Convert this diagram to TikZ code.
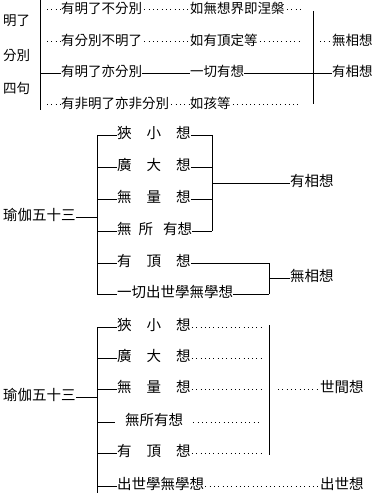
\documentclass[tikz,border=0pt]{standalone}
\usepackage{fontspec}
\newfontfamily\cjk{Noto Sans CJK TC}
\tikzset{
  lbl/.style={font=\cjk\fontsize{13.5}{14}\selectfont, inner sep=0pt, anchor=west, text height=0.88em, text depth=0.12em},
  lblb/.style={font=\cjk\fontsize{14.5}{15}\selectfont, inner sep=0pt, anchor=west, text height=0.88em, text depth=0.12em},
  ln/.style={line width=0.8pt},
  dots/.style={line width=1pt, dash pattern=on 1pt off 3.3pt},
}
\newcommand{\gapA}{\hspace{15pt}}
\begin{document}
\begin{tikzpicture}[x=1pt,y=-1pt]
\useasboundingbox (0,0) rectangle (378,494);
% ---------------- Section 1 ----------------
\node[lbl] (m1) at (3,22) {明了};
\node[lbl] (m2) at (3,57) {分別};
\node[lbl] (m3) at (3,90) {四句};
\coordinate (v1t) at (40,0);
\coordinate (v1b) at (40,110);
\draw[ln] (v1t) -- (v1b);
\node[lbl] (a1) at (61,10) {有明了不分別};
\node[lbl] (a2) at (61,42) {有分別不明了};
\node[lbl] (a3) at (61,73) {有明了亦分別};
\node[lbl] (a4) at (61,105) {有非明了亦非分別};
\node[lbl] (b1) at (190,10) {如無想界即涅槃};
\node[lbl] (b2) at (190,42) {如有頂定等};
\node[lbl] (b3) at (190,73) {一切有想};
\node[lbl] (b4) at (190,105) {如孩等};
\coordinate (e1) at (301,10);
\coordinate (e2) at (301,42);
\coordinate (e4) at (301,105);
\coordinate (v2t) at (313,11);
\coordinate (v2b) at (313,104);
\draw[ln] (v2t) -- (v2b);
\node[lbl] (c2) at (332,42) {無相想};
\node[lbl] (c3) at (332,73) {有相想};
% dotted rows
\draw[dots] ([xshift=7pt]v1t |- a1.west) -- ([xshift=-1pt]a1.west);
\draw[dots] ([xshift=7pt]v1t |- a2.west) -- ([xshift=-1pt]a2.west);
\draw[dots] ([xshift=7pt]v1t |- a4.west) -- ([xshift=-1pt]a4.west);
\draw[dots] ([xshift=2pt]a1.east) -- ([xshift=-1pt]b1.west);
\draw[dots] ([xshift=2pt]a2.east) -- ([xshift=-1pt]b2.west);
\draw[dots] ([xshift=2pt]a4.east) -- ([xshift=-1pt]b4.west);
\draw[dots] ([xshift=2pt]b1.east) -- (e1);
\draw[dots] ([xshift=2pt]b2.east) -- (e2);
\draw[dots] ([xshift=2pt]b4.east) -- (e4);
\draw[dots] ([xshift=7pt]v2t |- c2.west) -- ([xshift=-1pt]c2.west);
% solid row
\draw[ln] (v1t |- a3.west) -- (a3.west);
\draw[ln] (a3.east) -- (b3.west);
\draw[ln] (b3.east) -- (c3.west);
% ---------------- Section 2 ----------------
\node[lblb] (r2) at (3,217) {瑜伽五十三};
\coordinate (w2t) at (97,135);
\coordinate (w2b) at (97,294);
\draw[ln] (r2.east) -- (r2 -| w2t);
\draw[ln] (w2t) -- (w2b);
\node[lblb] (p1) at (117,135) {狹\gapA 小\gapA 想};
\node[lblb] (p2) at (117,167) {廣\gapA 大\gapA 想};
\node[lblb] (p3) at (117,199) {無\gapA 量\gapA 想};
\node[lblb] (p4) at (117,231) {無\hspace{7pt}所\hspace{10pt}有想};
\node[lblb] (p5) at (117,263) {有\gapA 頂\gapA 想};
\node[lblb] (p6) at (117,294) {一切出世學無學想};
\foreach \n in {p1,p2,p3,p4,p5,p6} \draw[ln] (w2t |- \n.west) -- (\n.west);
\coordinate (j1t) at (212,135);
\coordinate (j1b) at (212,231);
\foreach \n in {p1,p2,p3,p4} \draw[ln] (\n.east) -- (\n.east -| j1t);
\draw[ln] (j1t) -- (j1b);
\node[lblb] (h1) at (290,183) {有相想};
\draw[ln] (h1.west -| j1t) -- (h1.west);
\coordinate (j2t) at (269,263);
\coordinate (j2b) at (269,294);
\foreach \n in {p5,p6} \draw[ln] (\n.east) -- (\n.east -| j2t);
\draw[ln] (j2t) -- (j2b);
\node[lblb] (h2) at (290,278) {無相想};
\draw[ln] (h2.west -| j2t) -- (h2.west);
% ---------------- Section 3 ----------------
\node[lblb] (r3) at (3,397) {瑜伽五十三};
\coordinate (w3t) at (97,327);
\coordinate (w3b) at (97,493);
\draw[ln] (r3.east) -- (r3 -| w3t);
\draw[ln] (w3t) -- (w3b);
\node[lblb] (q1) at (117,327) {狹\gapA 小\gapA 想};
\node[lblb] (q2) at (117,358) {廣\gapA 大\gapA 想};
\node[lblb] (q3) at (117,389) {無\gapA 量\gapA 想};
\node[lblb] (q4) at (125,422) {無所有想};
\node[lblb] (q5) at (117,453) {有\gapA 頂\gapA 想};
\node[lblb] (q6) at (117,486) {出世學無學想};
\foreach \n in {q1,q2,q3,q5,q6} \draw[ln] (w3t |- \n.west) -- (\n.west);
\draw[ln] (w3t |- q4.west) -- ([xshift=-10pt]q4.west);
\coordinate (k1) at (261,0);
\foreach \n in {q1,q2,q3,q5} \draw[dots] ([xshift=1pt]\n.east) -- (\n.east -| k1);
\draw[dots] ([xshift=10pt]q4.east) -- (q4.east -| k1);
\coordinate (v3t) at (269,325);
\coordinate (v3b) at (269,455);
\draw[ln] (v3t) -- (v3b);
\node[lblb] (g1) at (320,389) {世間想};
\node[lblb] (g2) at (320,486) {出世想};
\draw[dots] ([xshift=9pt]v3t |- g1.west) -- ([xshift=-1pt]g1.west);
\draw[dots] ([xshift=1pt]q6.east) -- ([xshift=-1pt]g2.west);
\end{tikzpicture}
\end{document}
